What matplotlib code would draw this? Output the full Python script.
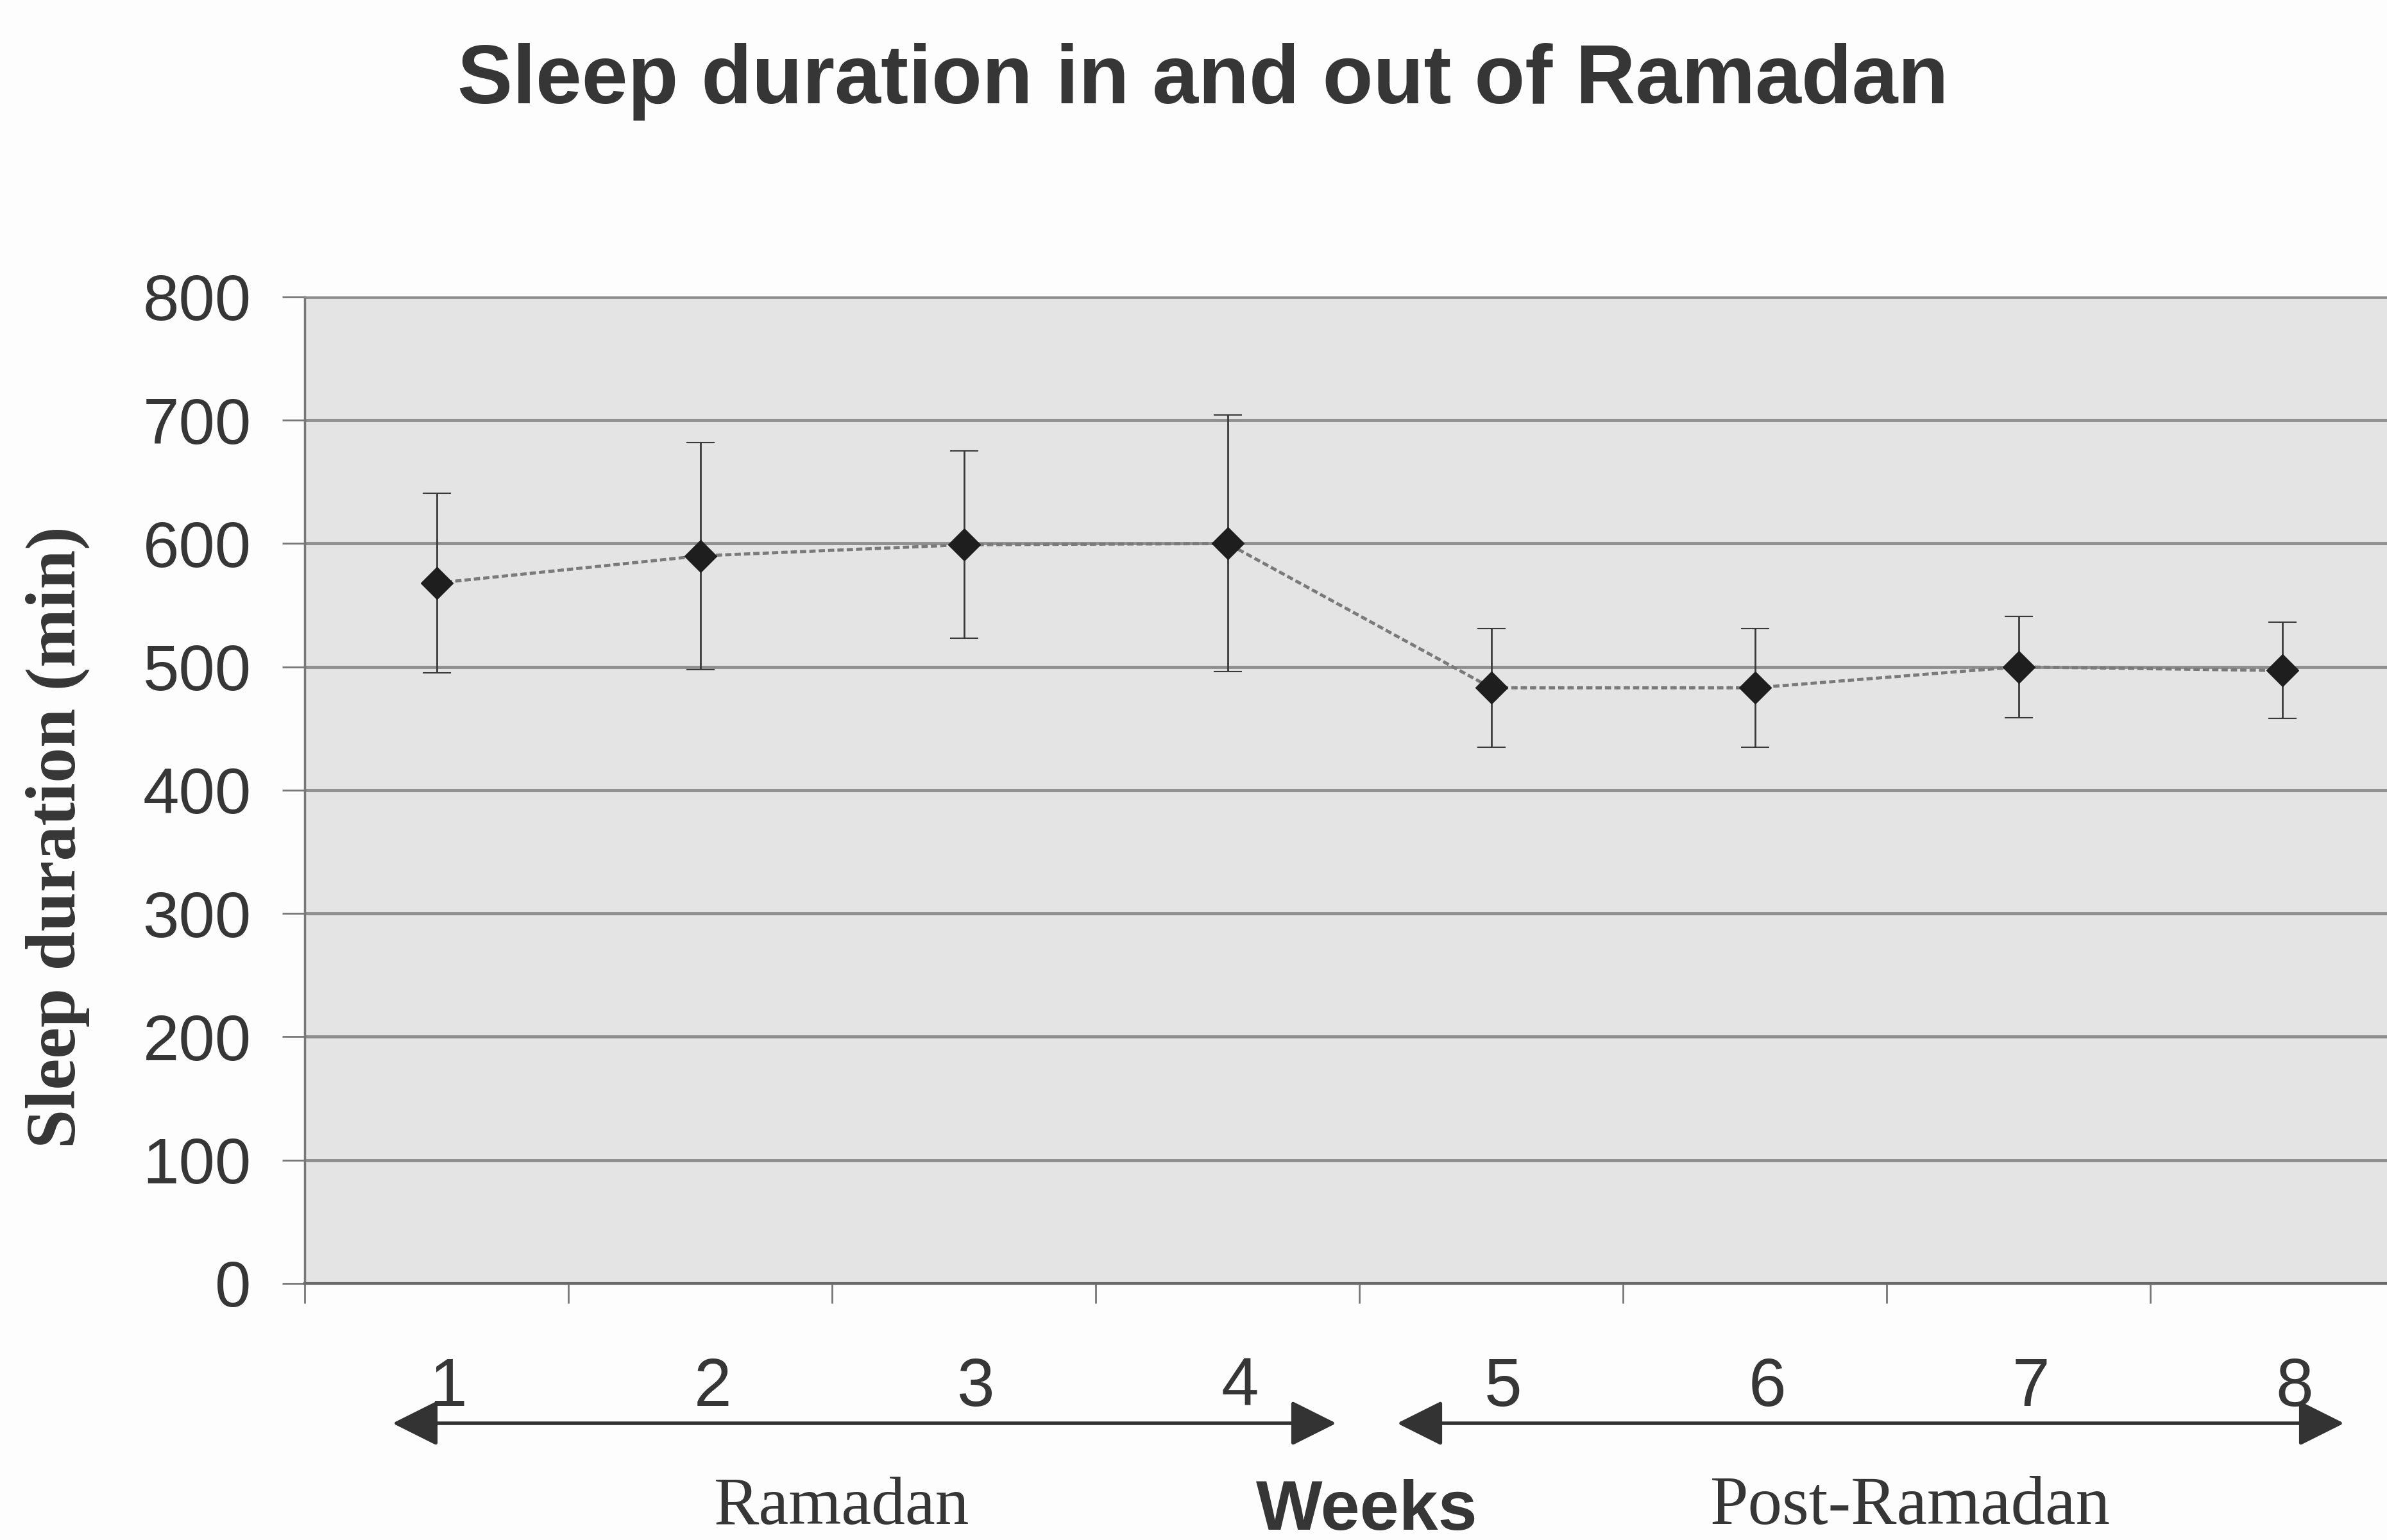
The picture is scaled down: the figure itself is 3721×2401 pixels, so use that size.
import matplotlib
matplotlib.use("Agg")
import matplotlib.pyplot as plt
from matplotlib.patches import FancyArrowPatch
from matplotlib.transforms import ScaledTranslation

# Weekly sleep duration (minutes): mean and standard deviation
weeks = [1, 2, 3, 4, 5, 6, 7, 8]
week_labels = ["1", "2", "3", "4", "5", "6", "7", "8"]
sleep_mean = [568, 590, 599, 600, 483, 483, 500, 497]
sleep_sd = [73, 92, 76, 104, 48, 48, 41, 39]
y_ticks = [0, 100, 200, 300, 400, 500, 600, 700, 800]

title = "Sleep duration in and out of Ramadan"
y_label = "Sleep duration (min)"
x_label = "Weeks"
period_labels = ["Ramadan", "Post-Ramadan"]

TEXT = "#363636"
SANS = ["Liberation Sans", "DejaVu Sans"]
SERIF = ["Liberation Serif", "DejaVu Serif"]

fig = plt.figure(figsize=(37.21, 24.01), dpi=100, facecolor="#fdfdfd")
ax = fig.add_axes([0.1277, 0.1666, 0.8836, 0.6406])
ax.set_facecolor("#e4e4e4")
ax.set_xlim(0.5, 8.5)
ax.set_ylim(0, 800)

# horizontal gridlines
ax.set_yticks(y_ticks)
ax.yaxis.grid(True, color="#8e8e8e", lw=3.5)
ax.set_axisbelow(True)

# connecting line, error bars and diamond markers
ax.plot(weeks, sleep_mean, color="#7a7a7a", lw=3.5, ls=(0, (2, 1)), zorder=3)
ax.errorbar(weeks, sleep_mean, yerr=sleep_sd, fmt="none", ecolor="#3a3a3a",
            elinewidth=2, capsize=16, capthick=1.5, zorder=4)
ax.plot(weeks, sleep_mean, ls="none", marker="D", ms=25, color="#1e1e1e",
        zorder=5)

# spines
ax.spines["right"].set_visible(False)
ax.spines["top"].set_color("#8e8e8e")
ax.spines["top"].set_linewidth(2)
ax.spines["left"].set_color("#777777")
ax.spines["left"].set_linewidth(2.5)
ax.spines["bottom"].set_color("#6a6a6a")
ax.spines["bottom"].set_linewidth(3)

# y axis ticks
ax.tick_params(axis="y", length=25, width=2, color="#777777", pad=35,
               labelsize=73, labelcolor=TEXT)
for lab in ax.get_yticklabels():
    lab.set_family(SANS)

# x axis: labels at week centres, tick marks between weeks
ax.set_xticks(weeks)
ax.set_xticklabels(week_labels)
ax.set_xticks([w + 0.5 for w in range(0, 9)], minor=True)
ax.tick_params(axis="x", which="major", length=0, pad=82, labelsize=76,
               labelcolor=TEXT)
ax.tick_params(axis="x", which="minor", length=22, width=2, color="#777777")
shift = ScaledTranslation(0.19, 0, fig.dpi_scale_trans)
for lab in ax.get_xticklabels():
    lab.set_family(SANS)
    lab.set_transform(lab.get_transform() + shift)

# titles and labels
fig.text(0.504, 0.933, title, ha="center", va="baseline", fontsize=93,
         fontweight="bold", family=SANS, color=TEXT)
fig.text(0.0242, 0.4565, y_label, rotation=90, ha="center", va="center",
         fontsize=79, fontweight="bold", family=SERIF, color=TEXT)
fig.text(0.5727, 0.0067, x_label, ha="center", va="baseline", fontsize=79,
         fontweight="bold", family=SANS, color=TEXT)
fig.text(0.3526, 0.001, period_labels[0], ha="center", va="bottom",
         fontsize=76, family=SERIF, color=TEXT)
fig.text(0.8003, 0.001, period_labels[1], ha="center", va="bottom",
         fontsize=77, family=SERIF, color=TEXT)

# double-headed arrows marking the two periods
arrow_y = 0.0758
for x0, x1 in [(612 / 3721, 2083 / 3721), (2178 / 3721, 3654 / 3721)]:
    arr = FancyArrowPatch((x0, arrow_y), (x1, arrow_y),
                          transform=fig.transFigure,
                          arrowstyle="<|-|>,head_length=2.2,head_width=1.1",
                          mutation_scale=20, lw=4, color="#333333",
                          shrinkA=0, shrinkB=0)
    fig.add_artist(arr)

fig.savefig("out.png", dpi=100, facecolor=fig.get_facecolor())
